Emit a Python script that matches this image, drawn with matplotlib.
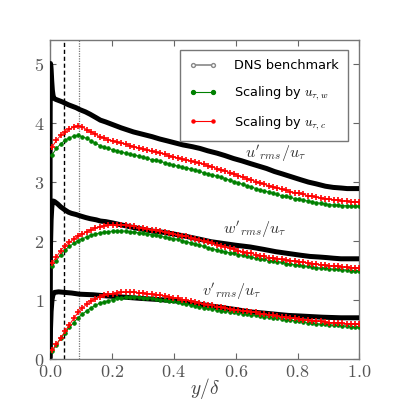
import matplotlib
matplotlib.use("Agg")
import matplotlib.pyplot as plt
from matplotlib.lines import Line2D

plt.rcParams['mathtext.fontset'] = 'cm'
plt.rcParams['font.family'] = ['DejaVu Sans']

# ---- data -------------------------------------------------------------
x_model = [0.007, 0.021, 0.035, 0.049, 0.063, 0.077, 0.091, 0.105, 0.119, 0.133,
           0.147, 0.161, 0.175, 0.189, 0.203, 0.217, 0.231, 0.245, 0.259, 0.273,
           0.287, 0.301, 0.315, 0.329, 0.343, 0.357, 0.371, 0.385, 0.399, 0.413,
           0.427, 0.441, 0.455, 0.469, 0.483, 0.497, 0.511, 0.525, 0.539, 0.553,
           0.567, 0.581, 0.595, 0.609, 0.623, 0.637, 0.651, 0.665, 0.679, 0.693,
           0.707, 0.721, 0.735, 0.749, 0.763, 0.777, 0.791, 0.805, 0.819, 0.833,
           0.847, 0.861, 0.875, 0.889, 0.903, 0.917, 0.931, 0.945, 0.959, 0.973,
           0.987, 0.999]

u_c = [3.58, 3.70, 3.78, 3.84, 3.89, 3.92, 3.94, 3.92, 3.88, 3.84,
       3.80, 3.76, 3.74, 3.71, 3.69, 3.67, 3.65, 3.63, 3.61, 3.59,
       3.57, 3.55, 3.53, 3.51, 3.50, 3.48, 3.46, 3.44, 3.42, 3.40,
       3.38, 3.37, 3.35, 3.33, 3.31, 3.29, 3.27, 3.25, 3.22, 3.20,
       3.18, 3.15, 3.13, 3.10, 3.08, 3.05, 3.03, 3.00, 2.98, 2.95,
       2.93, 2.91, 2.89, 2.87, 2.85, 2.83, 2.81, 2.80, 2.78, 2.76,
       2.75, 2.73, 2.72, 2.71, 2.70, 2.69, 2.68, 2.67, 2.67, 2.66,
       2.66, 2.66]
u_w = [3.45, 3.56, 3.64, 3.70, 3.74, 3.77, 3.78, 3.76, 3.73, 3.69,
       3.65, 3.61, 3.58, 3.56, 3.54, 3.52, 3.50, 3.48, 3.46, 3.45,
       3.43, 3.41, 3.39, 3.37, 3.36, 3.34, 3.32, 3.30, 3.28, 3.26,
       3.24, 3.23, 3.21, 3.19, 3.17, 3.15, 3.13, 3.11, 3.09, 3.07,
       3.05, 3.02, 3.00, 2.98, 2.95, 2.93, 2.91, 2.88, 2.86, 2.84,
       2.82, 2.80, 2.78, 2.76, 2.75, 2.73, 2.71, 2.70, 2.68, 2.67,
       2.66, 2.64, 2.63, 2.62, 2.61, 2.60, 2.60, 2.59, 2.59, 2.58,
       2.58, 2.58]
w_c = [1.62, 1.72, 1.83, 1.91, 1.97, 2.02, 2.07, 2.11, 2.15, 2.18,
       2.21, 2.23, 2.25, 2.26, 2.27, 2.27, 2.27, 2.26, 2.25, 2.24,
       2.22, 2.21, 2.20, 2.18, 2.17, 2.16, 2.14, 2.13, 2.11, 2.10,
       2.08, 2.07, 2.05, 2.03, 2.01, 1.99, 1.97, 1.95, 1.93, 1.91,
       1.89, 1.87, 1.85, 1.83, 1.81, 1.79, 1.78, 1.76, 1.74, 1.73,
       1.71, 1.70, 1.69, 1.68, 1.67, 1.66, 1.65, 1.64, 1.63, 1.62,
       1.61, 1.60, 1.59, 1.58, 1.57, 1.57, 1.56, 1.55, 1.55, 1.54,
       1.54, 1.53]
w_w = [1.56, 1.66, 1.76, 1.84, 1.90, 1.95, 2.00, 2.03, 2.06, 2.09,
       2.11, 2.13, 2.14, 2.15, 2.16, 2.16, 2.16, 2.16, 2.15, 2.14,
       2.13, 2.12, 2.11, 2.10, 2.09, 2.07, 2.06, 2.05, 2.03, 2.02,
       2.00, 1.98, 1.96, 1.94, 1.92, 1.90, 1.88, 1.86, 1.84, 1.82,
       1.81, 1.79, 1.78, 1.76, 1.75, 1.73, 1.72, 1.70, 1.69, 1.68,
       1.66, 1.65, 1.64, 1.63, 1.61, 1.60, 1.59, 1.58, 1.57, 1.56,
       1.55, 1.54, 1.53, 1.53, 1.52, 1.51, 1.51, 1.50, 1.50, 1.49,
       1.49, 1.49]
v_c = [0.14, 0.24, 0.35, 0.46, 0.57, 0.68, 0.78, 0.86, 0.92, 0.97,
       1.01, 1.04, 1.07, 1.09, 1.10, 1.11, 1.12, 1.12, 1.12, 1.12,
       1.11, 1.11, 1.10, 1.09, 1.08, 1.07, 1.06, 1.04, 1.03, 1.02,
       1.00, 0.99, 0.97, 0.95, 0.94, 0.92, 0.91, 0.90, 0.88, 0.87,
       0.86, 0.84, 0.83, 0.82, 0.81, 0.80, 0.79, 0.78, 0.76, 0.75,
       0.74, 0.73, 0.72, 0.71, 0.70, 0.69, 0.68, 0.67, 0.66, 0.65,
       0.64, 0.63, 0.63, 0.62, 0.61, 0.61, 0.60, 0.60, 0.59, 0.59,
       0.58, 0.58]
v_w = [0.12, 0.23, 0.34, 0.44, 0.53, 0.61, 0.69, 0.75, 0.81, 0.86,
       0.90, 0.94, 0.96, 0.98, 1.00, 1.02, 1.03, 1.04, 1.04, 1.04,
       1.04, 1.03, 1.03, 1.02, 1.01, 1.00, 0.99, 0.98, 0.97, 0.95,
       0.94, 0.92, 0.91, 0.89, 0.88, 0.86, 0.85, 0.84, 0.82, 0.81,
       0.80, 0.79, 0.78, 0.77, 0.76, 0.75, 0.74, 0.73, 0.72, 0.71,
       0.70, 0.69, 0.68, 0.67, 0.66, 0.65, 0.64, 0.63, 0.62, 0.61,
       0.60, 0.59, 0.58, 0.58, 0.57, 0.56, 0.56, 0.55, 0.55, 0.54,
       0.54, 0.53]

x_dns_u = [0, 0.0005, 0.001, 0.002, 0.003, 0.004, 0.005, 0.006, 0.008, 0.010,
           0.012, 0.016, 0.02, 0.03, 0.04, 0.048, 0.06, 0.07, 0.085, 0.096,
           0.115, 0.13, 0.15, 0.163, 0.18, 0.2, 0.23, 0.27, 0.30, 0.33,
           0.355, 0.378, 0.40, 0.43, 0.46, 0.485, 0.51, 0.54, 0.565, 0.593,
           0.62, 0.65, 0.675, 0.70, 0.725, 0.75, 0.78, 0.81, 0.835, 0.86,
           0.89, 0.915, 0.94, 0.96, 0.98, 1.0]
u_dns = [0, 2.5, 4.2, 5.0, 4.97, 4.9, 4.8, 4.7, 4.55, 4.47,
         4.42, 4.40, 4.39, 4.37, 4.35, 4.33, 4.30, 4.28, 4.25, 4.22,
         4.18, 4.14, 4.08, 4.04, 4.01, 3.97, 3.91, 3.84, 3.80, 3.76,
         3.72, 3.69, 3.66, 3.62, 3.59, 3.56, 3.52, 3.48, 3.44, 3.39,
         3.35, 3.30, 3.26, 3.22, 3.17, 3.13, 3.08, 3.03, 2.99, 2.96,
         2.92, 2.90, 2.89, 2.88, 2.88, 2.88]
x_dns_w = [0, 0.001, 0.002, 0.004, 0.006, 0.008, 0.01, 0.015, 0.025, 0.035,
           0.048, 0.06, 0.07, 0.085, 0.096, 0.115, 0.13, 0.15, 0.163, 0.18,
           0.2, 0.235, 0.27, 0.30, 0.33, 0.365, 0.40, 0.44, 0.485, 0.52,
           0.56, 0.60, 0.647, 0.69, 0.73, 0.77, 0.81, 0.84, 0.87, 0.895,
           0.915, 0.94, 0.96, 0.98, 1.0]
w_dns = [0, 1.2, 1.9, 2.35, 2.55, 2.64, 2.67, 2.66, 2.62, 2.57,
         2.52, 2.48, 2.46, 2.44, 2.42, 2.39, 2.37, 2.35, 2.33, 2.32,
         2.30, 2.26, 2.22, 2.19, 2.16, 2.14, 2.11, 2.07, 2.02, 1.98,
         1.95, 1.92, 1.89, 1.85, 1.81, 1.78, 1.75, 1.73, 1.72, 1.71,
         1.70, 1.69, 1.69, 1.69, 1.69]
x_dns_v = [0, 0.001, 0.002, 0.004, 0.007, 0.01, 0.015, 0.028, 0.048, 0.07,
           0.096, 0.14, 0.184, 0.24, 0.29, 0.35, 0.40, 0.445, 0.485, 0.52,
           0.56, 0.60, 0.647, 0.69, 0.73, 0.77, 0.81, 0.845, 0.88, 0.91,
           0.94, 0.97, 1.0]
v_dns = [0, 0.25, 0.5, 0.8, 1.0, 1.08, 1.12, 1.13, 1.12, 1.11,
         1.09, 1.08, 1.06, 1.04, 1.02, 1.0, 0.98, 0.95, 0.92, 0.89,
         0.86, 0.83, 0.79, 0.77, 0.75, 0.73, 0.72, 0.71, 0.70, 0.695,
         0.69, 0.69, 0.69]

x_ticks = [0.0, 0.2, 0.4, 0.6, 0.8, 1.0]
y_ticks = [0, 1, 2, 3, 4, 5]
x_dashed = 0.047
x_dotted = 0.095

# ---- figure ------------------------------------------------------------
fig = plt.figure(figsize=(3.99, 3.99), dpi=100)
ax = fig.add_axes([0.125, 0.1015, 0.776, 0.7985])

green = '#008000'
red = '#ff0000'

for xd, yd in [(x_dns_u, u_dns), (x_dns_w, w_dns), (x_dns_v, v_dns)]:
    ax.plot(xd, yd, color='black', lw=3.6, solid_capstyle='butt',
            solid_joinstyle='round', zorder=3)

for yw, yc in [(u_w, u_c), (w_w, w_c), (v_w, v_c)]:
    ax.plot(x_model, yw, color=green, lw=0.7, marker='o', ms=2.6,
            mfc=green, mec=green, mew=0.6, zorder=4)
    ax.plot(x_model, yc, color=red, lw=0.7, marker='+', ms=4.2, mew=1.2,
            mec=red, zorder=5)

ax.axvline(x_dashed, color='black', ls=(0, (3, 2)), lw=1.0, zorder=2)
ax.axvline(x_dotted, color='#777777', ls=(0, (1, 1)), lw=0.9, zorder=2)

ax.set_xlim(0, 1.0)
ax.set_ylim(0, 5.4)
ax.set_xticks(x_ticks)
ax.set_xticklabels([r'$%.1f$' % v for v in x_ticks])
ax.set_yticks(y_ticks)
ax.set_yticklabels([r'$%d$' % v for v in y_ticks])
ax.tick_params(direction='in', top=True, right=True, length=4, width=0.8,
               colors='#666666', labelcolor='#555555', labelsize=13, pad=3)
ax.tick_params(axis='y', pad=4)
for s in ax.spines.values():
    s.set_color('#777777')
    s.set_linewidth(1.0)

ax.set_xlabel(r'$y/\delta$', fontsize=14, color='#444444', labelpad=-3.5)

ax.text(0.728, 3.48, r"$u'_{rms}/u_{\tau}$", fontsize=11.5, color='#333333',
        ha='center', va='center')
ax.text(0.66, 2.18, r"$w'_{rms}/u_{\tau}$", fontsize=11.5, color='#333333',
        ha='center', va='center')
ax.text(0.586, 1.13, r"$v'_{rms}/u_{\tau}$", fontsize=11.5, color='#333333',
        ha='center', va='center')

handles = [
    Line2D([], [], color='#888888', lw=1.2, marker='o', ms=2.8, mfc='white', mec='#888888'),
    Line2D([], [], color=green, lw=0.8, marker='o', ms=2.8, mfc=green, mec=green),
    Line2D([], [], color=red, lw=0.8, marker='o', ms=2.2, mfc=red, mec=red),
]
labels = ['DNS benchmark', r'Scaling by $u_{\tau,w}$', r'Scaling by $u_{\tau,c}$']
leg = ax.legend(handles, labels, loc='upper right', numpoints=2, fontsize=9.3,
                fancybox=False, framealpha=1, edgecolor='#777777',
                borderpad=0.7, handlelength=2.2, handletextpad=1.3,
                labelspacing=0.95, borderaxespad=0.3,
                bbox_to_anchor=(0.975, 0.98))
leg.get_frame().set_linewidth(1.0)

fig.savefig('out.png', dpi=100)
